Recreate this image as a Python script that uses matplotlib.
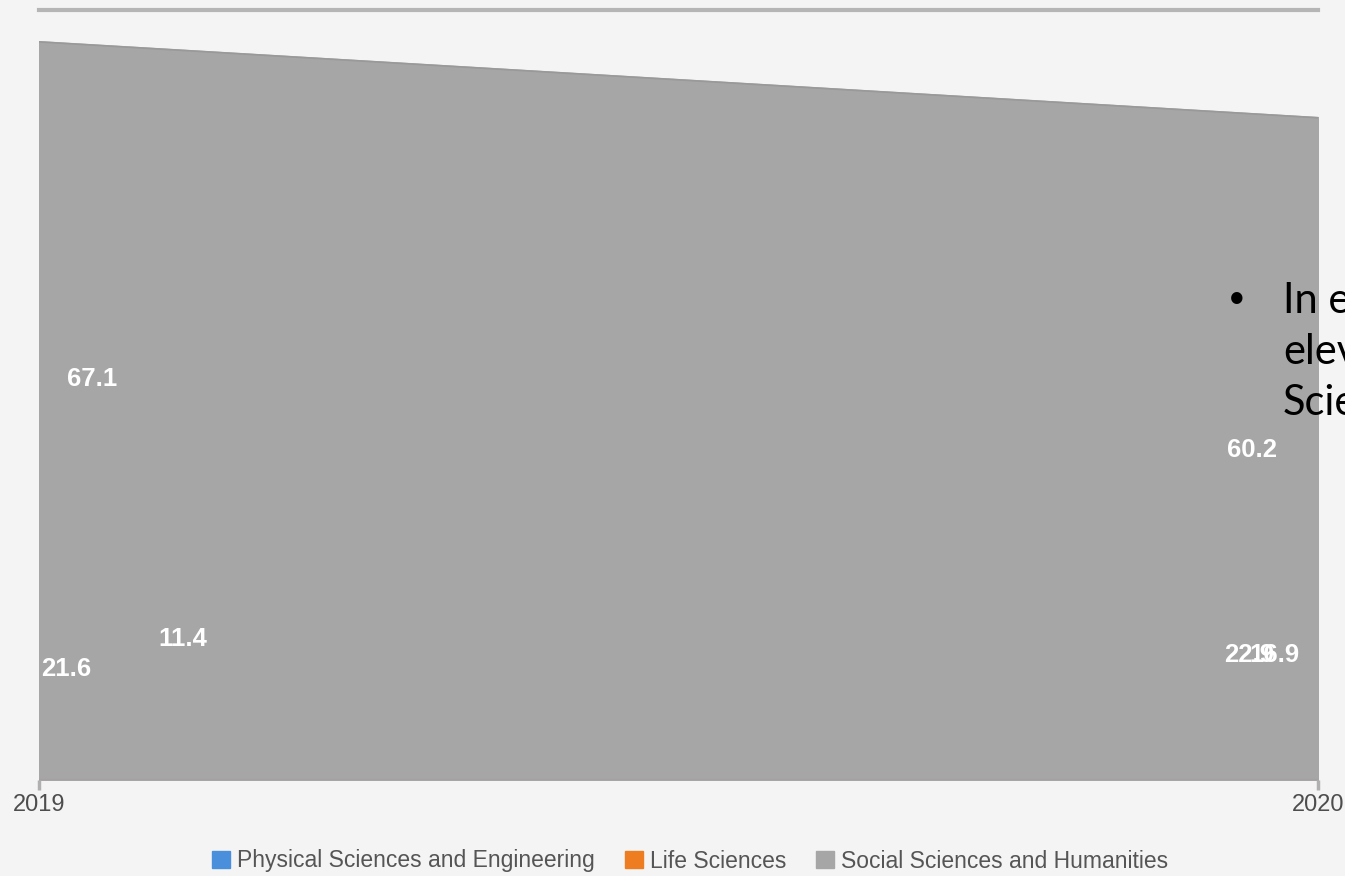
import matplotlib
matplotlib.use("Agg")
import matplotlib.pyplot as plt
from matplotlib.patches import Patch

# data (share of publications, %)
years = [2019, 2020]
series_names = ["Physical Sciences and Engineering", "Life Sciences", "Social Sciences and Humanities"]
phys_eng = [21.6, 22.9]
life_sci = [11.4, 16.9]
soc_hum = [67.1, 60.2]
y_max = 70

colors = ["#4a8fdc", "#ee7d22", "#a6a6a6"]
bg = "#f4f4f4"

plt.rcParams['font.family'] = ['Liberation Sans', 'DejaVu Sans']

fig = plt.figure(figsize=(13.45, 8.76), dpi=100, facecolor=bg)
ax = fig.add_axes([39 / 1345, 96 / 876, 1279 / 1345, 770 / 876])
ax.set_facecolor(bg)

# the areas are drawn from zero and overlap, the last one hides the others
for vals, c in zip([phys_eng, life_sci], colors[:2]):
    ax.fill_between(years, 0, vals, color=c, lw=0)
ax.fill_between(years, 0, soc_hum, facecolor=colors[2], edgecolor=colors[2], lw=2)
ax.plot(years, soc_hum, color="#999999", lw=1.2)
ax.axhline(0, color="#a7a0a0", lw=1.5)
ax.axhline(y_max, color="#b5b5b5", lw=3, clip_on=False)

ax.set_xlim(years[0], years[-1])
ax.set_ylim(0, y_max)
ax.set_yticks([])
ax.set_xticks(years)
ax.set_xticklabels([str(y) for y in years], fontsize=17, color="#4d4d4d")
ax.tick_params(axis="x", length=7, width=2.5, color="#b0b0b0", pad=3)
for s in ax.spines.values():
    s.set_visible(False)

# value labels (position: y in data units, x shift in pixels from the year)
label_layout = [
    (0, phys_eng[0], 10.1, 27),
    (0, life_sci[0], 12.8, 144),
    (0, soc_hum[0], 36.5, 53),
    (1, phys_eng[1], 11.4, -69),
    (1, life_sci[1], 11.4, -44),
    (1, soc_hum[1], 30.0, -66),
]
for i, v, ly, dx in label_layout:
    ax.annotate(f"{v:.1f}", xy=(years[i], ly), xytext=(dx, 0), textcoords="offset pixels",
                ha="center", va="center", fontsize=18.5, fontweight="bold", color="white",
                annotation_clip=False)

handles = [Patch(facecolor=c, edgecolor=c) for c in colors]
fig.legend(handles, series_names, loc="center", bbox_to_anchor=(690 / 1345, 1 - 861 / 876),
           ncol=3, frameon=False, fontsize=16.5, labelcolor="#555555",
           handlelength=0.8, handleheight=0.8, handletextpad=0.3, columnspacing=1.3)

# slide text that overlaps the chart on the right
fig.text(1237 / 1345, 1 - 298 / 876, "•", fontsize=22, color="black", ha="center", va="center",
         family=["Lato", "DejaVu Sans"])
for k, line in enumerate(["In each year", "eleven", "Sciences"]):
    fig.text(1283 / 1345, 1 - (313 + 51 * k) / 876, line, fontsize=30, color="black",
             ha="left", va="baseline", family=["Lato", "DejaVu Sans"])

fig.savefig("out.png", dpi=100, facecolor=bg)
